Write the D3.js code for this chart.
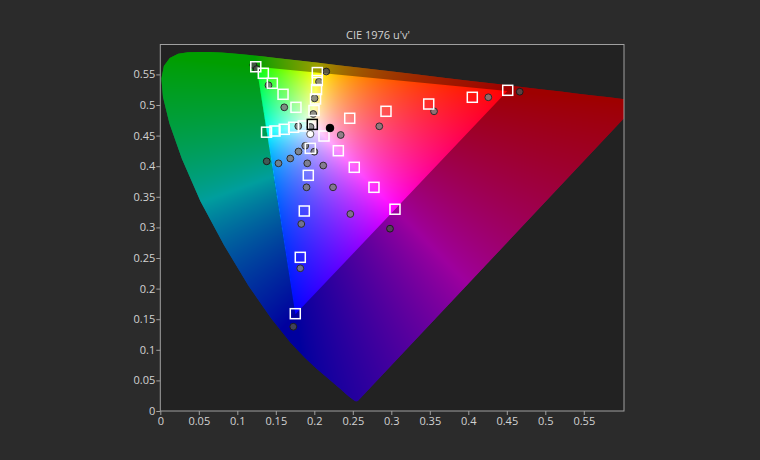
<!DOCTYPE html>
<html><head><meta charset="utf-8">
<script src="https://cdn.jsdelivr.net/npm/d3@7"></script>
<style>body{margin:0;background:#2b2b2b;} svg{display:block}</style>
</head><body>
<svg id="chart" width="760" height="460"></svg>
<script>
// Spectral locus (CIE 1931 2° xy chromaticities)
const wavelengths = [380,385,390,395,400,405,410,415,420,425,430,435,440,445,450,455,460,465,470,475,480,485,490,495,500,505,510,515,520,525,530,535,540,545,550,555,560,565,570,575,580,585,590,595,600,605,610,615,620,625,630,635,640,645,650,655,660,665,670,680,690,700];
const locusX = [0.1741,0.1740,0.1738,0.1736,0.1733,0.1730,0.1726,0.1721,0.1714,0.1703,0.1689,0.1669,0.1644,0.1611,0.1566,0.1510,0.1440,0.1355,0.1241,0.1096,0.0913,0.0687,0.0454,0.0235,0.0082,0.0039,0.0139,0.0389,0.0743,0.1142,0.1547,0.1929,0.2296,0.2658,0.3016,0.3373,0.3731,0.4087,0.4441,0.4788,0.5125,0.5448,0.5752,0.6029,0.6270,0.6482,0.6658,0.6801,0.6915,0.7006,0.7079,0.7140,0.7190,0.7230,0.7260,0.7283,0.7300,0.7311,0.7320,0.7334,0.7344,0.7347];
const locusY = [0.0050,0.0050,0.0049,0.0049,0.0048,0.0048,0.0048,0.0048,0.0051,0.0058,0.0069,0.0086,0.0109,0.0138,0.0177,0.0227,0.0297,0.0399,0.0578,0.0868,0.1327,0.2007,0.2950,0.4127,0.5384,0.6548,0.7502,0.8120,0.8338,0.8262,0.8059,0.7816,0.7543,0.7243,0.6923,0.6589,0.6245,0.5896,0.5547,0.5202,0.4866,0.4544,0.4242,0.3965,0.3725,0.3514,0.3340,0.3197,0.3083,0.2993,0.2920,0.2859,0.2809,0.2770,0.2740,0.2717,0.2700,0.2689,0.2680,0.2666,0.2656,0.2653];

// Gamut triangle (u'v')
const primaryNames = ["Red","Green","Blue"];
const primaryU = [0.4507,0.1250,0.1754];
const primaryV = [0.5229,0.5625,0.1579];

// Targets (squares): red, green, blue, cyan, magenta, yellow sweeps
const targetU = [0.4512,0.4052,0.3486,0.2931,0.2460,
                 0.1240,0.1338,0.1455,0.1594,0.1762,
                 0.1753,0.1818,0.1870,0.1922,0.1948,
                 0.1380,0.1490,0.1610,0.1732,0.1857,
                 0.3048,0.2775,0.2519,0.2312,0.2126,
                 0.2039,0.2039,0.2029,0.2016,0.1996];
const targetV = [0.5240,0.5126,0.5016,0.4897,0.4783,
                 0.5625,0.5518,0.5355,0.5175,0.4962,
                 0.1590,0.2511,0.3268,0.3851,0.4292,
                 0.4556,0.4575,0.4603,0.4636,0.4657,
                 0.3297,0.3655,0.3982,0.4253,0.4493,
                 0.5530,0.5400,0.5253,0.5098,0.4910];
const whiteTargetU = [0.1974];
const whiteTargetV = [0.4683];

// Measured (circles)
const measuredU = [0.1208,0.1252,0.1405,0.1610,0.1792,0.1951,0.1987,0.2003,0.2061,0.2155,
                   0.2343,0.2844,0.3555,0.4260,0.4668,0.1882,0.2000,0.1795,0.1688,0.1535,
                   0.1382,0.1909,0.2116,0.1899,0.2243,0.2468,0.1831,0.1818,0.2983,0.1727];
const measuredV = [0.5654,0.5588,0.5322,0.4962,0.4654,0.4641,0.4853,0.5109,0.5381,0.5547,
                   0.4510,0.4652,0.4897,0.5126,0.5217,0.4333,0.4237,0.4240,0.4126,0.4047,
                   0.4080,0.4047,0.4011,0.3655,0.3655,0.3219,0.3056,0.2332,0.2979,0.1377];
const blackPointU = [0.2204], blackPointV = [0.4624];
const whitePointU = [0.1948], whitePointV = [0.4526];

const xTicks = [0,0.05,0.1,0.15,0.2,0.25,0.3,0.35,0.4,0.45,0.5,0.55];
const yTicks = [0,0.05,0.1,0.15,0.2,0.25,0.3,0.35,0.4,0.45,0.5,0.55];
const title = "CIE 1976 u'v'";

// ---------- drawing ----------
const svg = d3.select('#chart');
const plotL = 160.3, plotR = 624, plotT = 44.5, plotB = 411;
const x = d3.scaleLinear().domain([0, 0.6]).range([plotL, 622.3]);
const y = d3.scaleLinear().domain([0, 0.6]).range([plotB, 43.8]);

svg.append('rect').attr('width',760).attr('height',460).attr('fill','#2b2b2b');
svg.append('rect').attr('x',plotL).attr('y',plotT).attr('width',plotR-plotL).attr('height',plotB-plotT).attr('fill','#222222');

function xyToUv(xx, yy){ const d = -2*xx + 12*yy + 3; return [4*xx/d, 9*yy/d]; }
const locusUV = locusX.map((xx,i)=>xyToUv(xx, locusY[i]));
const locusPts = locusUV.map(p=>[x(p[0]), y(p[1])]);
const triPts = primaryU.map((u,i)=>[x(u), y(primaryV[i])]);

const defs = svg.append('defs');
defs.append('clipPath').attr('id','plotClip').append('rect')
  .attr('x',plotL).attr('y',plotT).attr('width',plotR-plotL).attr('height',plotB-plotT);
defs.append('clipPath').attr('id','locusClip').append('path')
  .attr('d', d3.line()(locusPts) + 'Z');

function enc(c){ return Math.pow(c, 1/1.25); }
function colorAt(u, v){
  const d = 6*u - 16*v + 12;
  const cx = 9*u/d, cy = 4*v/d;
  if (cy <= 0.002) return [20,0,60];
  const X = cx/cy, Y = 1, Z = (1-cx-cy)/cy;
  let r = 3.2406*X - 1.5372*Y - 0.4986*Z;
  let g = -0.9689*X + 1.8758*Y + 0.0415*Z;
  let b = 0.0557*X - 0.2040*Y + 1.0570*Z;
  if (r < 0) g *= 2.2;            // greener rendering of the cyan side, as in the reference
  r = Math.max(r,0); g = Math.max(g,0); b = Math.max(b,0);
  const m = Math.max(r,g,b) || 1;
  return [enc(r/m)*255, enc(g/m)*255, enc(b/m)*255];
}

const pw = Math.ceil(plotR - plotL), ph = Math.ceil(plotB - plotT);
const cnv = document.createElement('canvas'); cnv.width = pw; cnv.height = ph;
const ctx = cnv.getContext('2d');
const img = ctx.createImageData(pw, ph);
for (let j = 0; j < ph; j++){
  for (let i = 0; i < pw; i++){
    const u = x.invert(plotL + i + 0.5), v = y.invert(plotT + j + 0.5);
    const c = colorAt(u, v);
    const k = (j*pw + i)*4;
    img.data[k] = c[0]; img.data[k+1] = c[1]; img.data[k+2] = c[2]; img.data[k+3] = 255;
  }
}
ctx.putImageData(img, 0, 0);

const plotG = svg.append('g').attr('clip-path','url(#plotClip)');
plotG.append('image').attr('x',plotL).attr('y',plotT).attr('width',pw).attr('height',ph)
  .attr('preserveAspectRatio','none').attr('href', cnv.toDataURL())
  .attr('clip-path','url(#locusClip)');

// measured circles
plotG.selectAll('circle.meas').data(measuredU.map((u,i)=>[u, measuredV[i]])).join('circle')
  .attr('class','meas').attr('cx',d=>x(d[0])).attr('cy',d=>y(d[1])).attr('r',3.4)
  .attr('fill','#7c7c7c').attr('fill-opacity',0.85).attr('stroke','#2e2e2e').attr('stroke-width',1);

// darken out-of-gamut area
plotG.append('path')
  .attr('d', d3.line()(locusPts) + 'Z' + d3.line()(triPts) + 'Z')
  .attr('fill','#000').attr('fill-opacity',0.38).attr('fill-rule','evenodd');

// target squares
const sq = 10;
plotG.selectAll('rect.tgt').data(targetU.map((u,i)=>[u, targetV[i]])).join('rect')
  .attr('class','tgt').attr('x',d=>x(d[0])-sq/2).attr('y',d=>y(d[1])-sq/2)
  .attr('width',sq).attr('height',sq).attr('fill','none').attr('stroke','#ffffff').attr('stroke-width',1.5);
plotG.selectAll('rect.wt').data(whiteTargetU.map((u,i)=>[u, whiteTargetV[i]])).join('rect')
  .attr('class','wt').attr('x',d=>x(d[0])-sq/2).attr('y',d=>y(d[1])-sq/2)
  .attr('width',sq).attr('height',sq).attr('fill','none').attr('stroke','#000000').attr('stroke-width',1.5);

plotG.selectAll('circle.wp').data(whitePointU.map((u,i)=>[u, whitePointV[i]])).join('circle')
  .attr('class','wp').attr('cx',d=>x(d[0])).attr('cy',d=>y(d[1])).attr('r',3.6)
  .attr('fill','#ffffff').attr('stroke','#555').attr('stroke-width',1);
plotG.selectAll('circle.bp').data(blackPointU.map((u,i)=>[u, blackPointV[i]])).join('circle')
  .attr('class','bp').attr('cx',d=>x(d[0])).attr('cy',d=>y(d[1])).attr('r',3.8)
  .attr('fill','#000000').attr('stroke','#000').attr('stroke-width',1);

// border
svg.append('rect').attr('x',plotL).attr('y',plotT).attr('width',plotR-plotL).attr('height',plotB-plotT)
  .attr('fill','none').attr('stroke','#a0a0a0').attr('stroke-width',1);

const font = "'Open Sans', 'Noto Sans', sans-serif";
const fmt = d => String(+d.toFixed(2));
const xAxis = svg.append('g').attr('transform',`translate(0,${plotB})`)
  .call(d3.axisBottom(x).tickValues(xTicks).tickFormat(fmt).tickSize(4).tickPadding(2));
const yAxis = svg.append('g').attr('transform',`translate(${plotL},0)`)
  .call(d3.axisLeft(y).tickValues(yTicks).tickFormat(fmt).tickSize(4).tickPadding(1));
[xAxis, yAxis].forEach(a=>{
  a.select('.domain').remove();
  a.selectAll('line').attr('stroke','#a0a0a0');
  a.selectAll('text').attr('fill','#d2d2d2').style('font-family',font).style('font-size','11px');
});

svg.append('text').attr('x',378).attr('y',39).attr('text-anchor','middle')
  .attr('fill','#d2d2d2').style('font-family',font).style('font-size','11px').text(title);
</script>
</body></html>
